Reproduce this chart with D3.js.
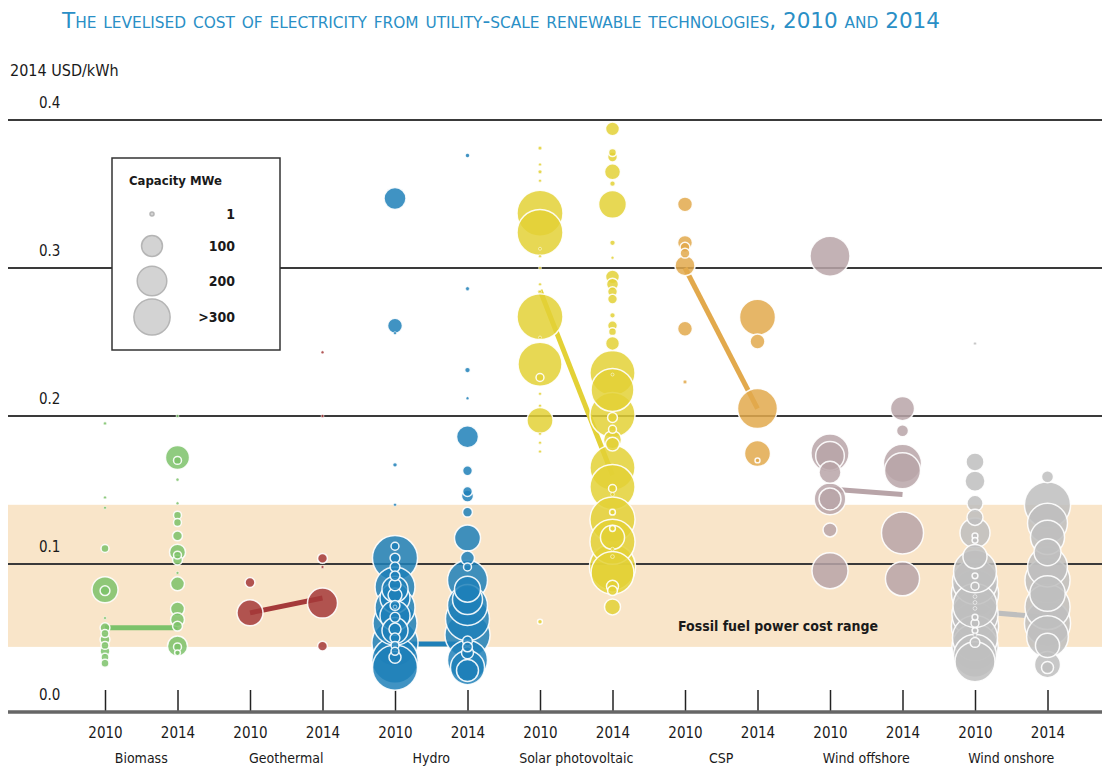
<!DOCTYPE html>
<html>
<head>
<meta charset="utf-8">
<script src="https://cdn.jsdelivr.net/npm/d3@7"></script>
<style>
  body { margin: 0; background: #fff; }
  text { font-family: "Liberation Sans Narrow", "DejaVu Sans Condensed", "Liberation Sans", sans-serif; fill: #1a1a1a; }
</style>
</head>
<body>
<svg></svg>
<script>
var width = 1102;
var height = 767;

// technologies, years and colours
var techs = ['Biomass', 'Geothermal', 'Hydro', 'Solar photovoltaic', 'CSP', 'Wind offshore', 'Wind onshore'];
var years = ['2010', '2014'];
var colors = ['#7cc26a', '#a53a3a', '#1f80b8', '#e3d136', '#e2a94c', '#b8a4a8', '#bebebe'];

// project points: [LCOE 2014 USD/kWh, capacity MWe]
var biomass2010 = [[0.195, 2], [0.145, 1], [0.138, 1], [0.1105, 13], [0.0826, 140], [0.082, 20], [0.0635, 1],
  [0.057, 20], [0.053, 13], [0.049, 20], [0.045, 13], [0.041, 20], [0.037, 13], [0.033, 13]];
var biomass2014 = [[0.2, 1], [0.172, 120], [0.170, 13], [0.157, 2], [0.141, 1], [0.133, 13], [0.128, 13], [0.119, 20],
  [0.108, 53], [0.106, 13], [0.1027, 20], [0.094, 1], [0.0866, 40], [0.0696, 40], [0.0624, 40], [0.058, 20],
  [0.0445, 83], [0.044, 13], [0.040, 7]];
var geothermal2010 = [[0.0875, 20], [0.067, 140]];
var geothermal2014 = [[0.243, 1], [0.2, 1], [0.1038, 20], [0.098, 1], [0.0736, 186], [0.0445, 20]];
var hydro2010 = [[0.347, 100], [0.261, 46], [0.256, 1], [0.167, 5], [0.140, 1],
  [0.104, 420], [0.0845, 330], [0.0705, 330], [0.060, 400], [0.0466, 440], [0.035, 440], [0.030, 420],
  [0.083, 140], [0.077, 186], [0.065, 186], [0.055, 140],
  [0.112, 13], [0.104, 20], [0.098, 20], [0.092, 20], [0.086, 30], [0.079, 40], [0.072, 20], [0.071, 3],
  [0.064, 20], [0.056, 30], [0.050, 20], [0.045, 13], [0.041, 13], [0.037, 30]];
var hydro2014 = [[0.376, 5], [0.286, 3], [0.231, 7], [0.212, 1], [0.186, 100], [0.163, 20], [0.149, 20], [0.146, 30],
  [0.135, 20], [0.1175, 140], [0.104, 40], [0.098, 13], [0.089, 330], [0.083, 140], [0.076, 186], [0.072, 330],
  [0.063, 400], [0.052, 420], [0.048, 20], [0.044, 20], [0.040, 30], [0.035, 330], [0.030, 240], [0.028, 100]];
var solar2010 = [[0.381, 3], [0.370, 1], [0.365, 3], [0.359, 1], [0.337, 437], [0.324, 437], [0.313, 1], [0.308, 1],
  [0.300, 1], [0.289, 1], [0.284, 1], [0.267, 437], [0.253, 1], [0.235, 400], [0.226, 13], [0.215, 1], [0.207, 1],
  [0.197, 140], [0.188, 1], [0.182, 1], [0.176, 1], [0.061, 5]];
var solar2014 = [[0.394, 40], [0.378, 13], [0.375, 20], [0.365, 53], [0.357, 7], [0.343, 160], [0.317, 7], [0.307, 1],
  [0.294, 40], [0.289, 30], [0.284, 20], [0.279, 20], [0.268, 7], [0.261, 20], [0.257, 13], [0.249, 40],
  [0.229, 420], [0.228, 1], [0.2176, 380], [0.2007, 420], [0.199, 20], [0.191, 13], [0.184, 67], [0.181, 40],
  [0.165, 420], [0.152, 420], [0.151, 13], [0.147, 3], [0.135, 7], [0.130, 420], [0.124, 7], [0.118, 120],
  [0.115, 420], [0.110, 3], [0.105, 3], [0.098, 440], [0.094, 380], [0.085, 30], [0.082, 20], [0.071, 53]];
var csp2010 = [[0.343, 46], [0.317, 46], [0.314, 20], [0.310, 20], [0.3016, 83], [0.259, 46], [0.223, 3]];
var csp2014 = [[0.2667, 268], [0.2503, 46], [0.205, 330], [0.1746, 140], [0.170, 5]];
var offshore2010 = [[0.308, 330], [0.175, 300], [0.173, 170], [0.162, 100], [0.144, 206], [0.144, 100], [0.123, 40], [0.0955, 268]];
var offshore2014 = [[0.205, 120], [0.190, 30], [0.168, 300], [0.163, 268], [0.121, 365], [0.090, 240]];
var onshore2010 = [[0.249, 1], [0.169, 67], [0.156, 83], [0.141, 53], [0.1315, 53], [0.121, 186], [0.119, 7], [0.116, 7],
  [0.105, 120], [0.095, 380], [0.088, 420], [0.080, 460], [0.072, 400], [0.066, 440], [0.058, 460], [0.050, 420],
  [0.044, 440], [0.038, 380], [0.034, 330], [0.092, 7], [0.085, 13], [0.078, 3], [0.074, 3], [0.070, 3],
  [0.064, 7], [0.060, 13], [0.055, 7], [0.052, 3], [0.047, 20]];
var onshore2014 = [[0.159, 30], [0.140, 440], [0.1275, 330], [0.118, 240], [0.108, 150], [0.098, 330], [0.089, 420],
  [0.080, 260], [0.071, 420], [0.060, 440], [0.051, 360], [0.045, 120], [0.032, 140], [0.030, 30]];

// weighted averages joined by a line
var avg2010 = [0.057, 0.067, 0.046, 0.285, 0.300, 0.1507, 0.068];
var avg2014 = [0.057, 0.077, 0.046, 0.160, 0.205, 0.147, 0.064];

var yTicks = [0.0, 0.1, 0.2, 0.3, 0.4];
var fossilRange = [0.044, 0.14];
var legendCaps = [1, 100, 200, 300];
var legendLabels = ['1', '100', '200', '>300'];

var points = [
  [biomass2010, biomass2014], [geothermal2010, geothermal2014], [hydro2010, hydro2014],
  [solar2010, solar2014], [csp2010, csp2014], [offshore2010, offshore2014], [onshore2010, onshore2014]
];

var svg = d3.select('svg')
  .attr('width', width)
  .attr('height', height);

var keys = [];
techs.forEach(t => years.forEach(y => keys.push(t + '|' + y)));

var xScale = d3.scalePoint()
  .domain(keys)
  .range([105, 1047.5]);
var yScale = d3.scaleLinear()
  .domain([0, 0.4])
  .range([712, 120]);
var rScale = d3.scaleSqrt()
  .domain([0, 100])
  .range([0, 11]);

// title
svg.append('text')
  .attr('x', 62)
  .attr('y', 28)
  .attr('textLength', 878)
  .attr('lengthAdjust', 'spacingAndGlyphs')
  .style('font-variant', 'small-caps')
  .style('font-size', '21px')
  .style('fill', '#2a8fc6')
  .text('The levelised cost of electricity from utility-scale renewable technologies, 2010 and 2014');

svg.append('text')
  .attr('x', 10)
  .attr('y', 76)
  .style('font-size', '16px')
  .text('2014 USD/kWh');

// fossil fuel band
svg.append('rect')
  .attr('x', 8)
  .attr('width', width - 8)
  .attr('y', yScale(fossilRange[1]))
  .attr('height', yScale(fossilRange[0]) - yScale(fossilRange[1]))
  .attr('fill', '#f9e5c9');

// gridlines and labels
var grid = svg.append('g');
grid.selectAll('line')
  .data(yTicks.filter(d => d > 0))
  .enter().append('line')
  .attr('x1', 8).attr('x2', width)
  .attr('y1', d => yScale(d)).attr('y2', d => yScale(d))
  .attr('stroke', '#3a3a3a')
  .attr('stroke-width', 2);
grid.selectAll('text')
  .data(yTicks)
  .enter().append('text')
  .attr('x', 39)
  .attr('y', d => yScale(d) - 12)
  .style('font-size', '15px')
  .text(d => d.toFixed(1));

svg.append('text')
  .attr('x', 778)
  .attr('y', 631)
  .attr('text-anchor', 'middle')
  .style('font-size', '14px')
  .style('font-weight', '600')
  .text('Fossil fuel power cost range');

// x axis
var xAxis = d3.axisBottom(xScale)
  .tickSize(-22)
  .tickFormat(d => d.split('|')[1]);
var ax = svg.append('g')
  .attr('transform', `translate(0,${yScale(0)})`)
  .call(xAxis);
ax.select('.domain').remove();
ax.selectAll('.tick line').attr('stroke', '#222').attr('stroke-width', 1.5);
ax.selectAll('.tick text')
  .attr('y', 15)
  .style('font-size', '15px')
  .style('font-family', '"Liberation Sans Narrow", "DejaVu Sans Condensed", sans-serif')
  .attr('fill', '#1a1a1a');
svg.append('line')
  .attr('x1', 8).attr('x2', width)
  .attr('y1', yScale(0)).attr('y2', yScale(0))
  .attr('stroke', '#666')
  .attr('stroke-width', 3.5);

svg.append('g').selectAll('text')
  .data(techs)
  .enter().append('text')
  .attr('x', d => (xScale(d + '|2010') + xScale(d + '|2014')) / 2)
  .attr('y', 763)
  .attr('text-anchor', 'middle')
  .style('font-size', '14px')
  .text(d => d);

// average lines
svg.append('g').selectAll('line')
  .data(techs)
  .enter().append('line')
  .attr('x1', d => xScale(d + '|2010'))
  .attr('x2', d => xScale(d + '|2014'))
  .attr('y1', (d, i) => yScale(avg2010[i]))
  .attr('y2', (d, i) => yScale(avg2014[i]))
  .attr('stroke', (d, i) => colors[i])
  .attr('stroke-width', 5);

// bubbles
var bubbles = [];
techs.forEach((t, i) => {
  years.forEach((y, j) => {
    points[i][j].forEach(p => bubbles.push({ key: t + '|' + y, value: p[0], cap: p[1], color: colors[i] }));
  });
});
bubbles.sort((a, b) => b.cap - a.cap);

svg.append('g').selectAll('circle')
  .data(bubbles)
  .enter().append('circle')
  .attr('cx', d => xScale(d.key))
  .attr('cy', d => yScale(d.value))
  .attr('r', d => Math.max(1.5, rScale(d.cap)))
  .attr('fill', d => d.color)
  .attr('fill-opacity', 0.85)
  .attr('stroke', '#fff')
  .attr('stroke-opacity', 0.9)
  .attr('stroke-width', d => d.cap < 5 ? 0.6 : 1.5);

// legend
var legend = svg.append('g');
legend.append('rect')
  .attr('x', 112).attr('y', 158)
  .attr('width', 168).attr('height', 192)
  .attr('fill', '#fff')
  .attr('stroke', '#333')
  .attr('stroke-width', 1.5);
legend.append('text')
  .attr('x', 129).attr('y', 185)
  .style('font-size', '13px')
  .style('font-weight', 'bold')
  .text('Capacity MWe');
var legendY = [214, 246, 281, 317];
legend.selectAll('circle')
  .data(legendCaps)
  .enter().append('circle')
  .attr('cx', 152)
  .attr('cy', (d, i) => legendY[i])
  .attr('r', d => Math.max(2, rScale(d) * 0.95))
  .attr('fill', '#d3d3d3')
  .attr('stroke', '#b5b5b5')
  .attr('stroke-width', 1.5);
legend.selectAll('text.lab')
  .data(legendLabels)
  .enter().append('text')
  .attr('class', 'lab')
  .attr('x', 235)
  .attr('y', (d, i) => legendY[i] + 5)
  .attr('text-anchor', 'end')
  .style('font-size', '14px')
  .style('font-weight', 'bold')
  .text(d => d);
</script>
</body>
</html>
